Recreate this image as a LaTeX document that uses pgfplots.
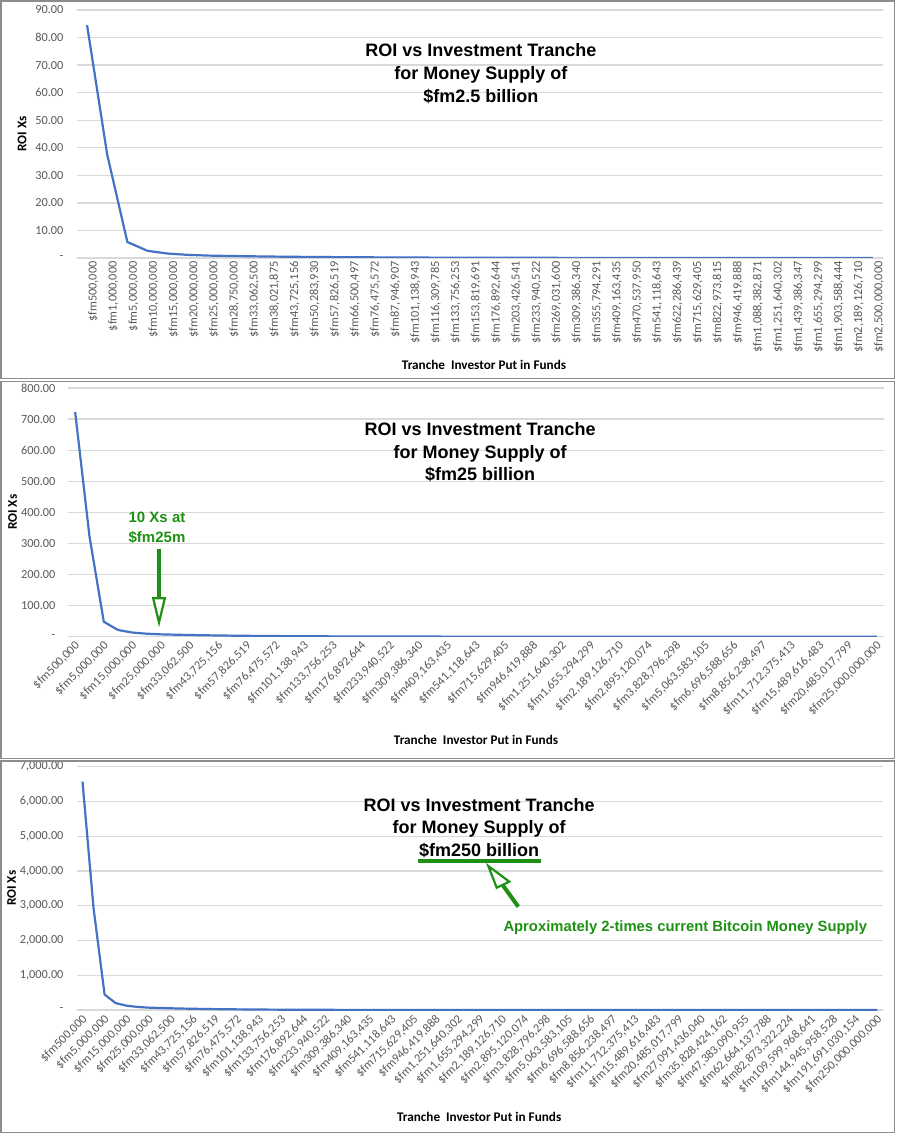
\documentclass[border=0pt]{standalone}
\usepackage{pgfplots}
\pgfplotsset{compat=1.18}
\usepackage{fontspec}
\setmainfont{Carlito}
\newfontfamily\titlefont{Liberation Sans}
\definecolor{lineblue}{HTML}{4472C4}
\definecolor{gridgray}{HTML}{D9D9D9}
\definecolor{tickgray}{HTML}{595959}
\definecolor{anngreen}{RGB}{30,145,20}
\definecolor{framegray}{HTML}{8C8C8C}
\pgfplotsset{roiaxis/.style={
  scale only axis, anchor=south west,
  ymin=0, axis line style={draw=none}, tick style={draw=none},
  ymajorgrids, major grid style={gridgray, line width=1.3pt},
  tick label style={font=\fontsize{12.3}{12.3}\selectfont, text=tickgray},
  label style={font=\bfseries\fontsize{13.2}{15}\selectfont, text=black},
  title style={font=\titlefont\bfseries\fontsize{18}{22.7}\selectfont, align=center, anchor=center},
}}
\begin{document}
\begin{tikzpicture}
\path[use as bounding box, fill=white] (0pt,0pt) rectangle (896pt,1134pt);
% ---------- Panel 1 ----------
\begin{axis}[roiaxis, at={(77pt,876pt)}, width=806pt, height=248pt,
  xmin=-0.5, xmax=39.5, ymax=90,
  ytick={0,10,...,90},
  yticklabels={{-\hspace{4pt}},{10.00},{20.00},{30.00},{40.00},{50.00},{60.00},{70.00},{80.00},{90.00}},
  yticklabel style={xshift=-10pt},
  xtick={0,...,39},
  xticklabels={{\$fm500,000},{\$fm1,000,000},{\$fm5,000,000},{\$fm10,000,000},{\$fm15,000,000},{\$fm20,000,000},{\$fm25,000,000},{\$fm28,750,000},{\$fm33,062,500},{\$fm38,021,875},{\$fm43,725,156},{\$fm50,283,930},{\$fm57,826,519},{\$fm66,500,497},{\$fm76,475,572},{\$fm87,946,907},{\$fm101,138,943},{\$fm116,309,785},{\$fm133,756,253},{\$fm153,819,691},{\$fm176,892,644},{\$fm203,426,541},{\$fm233,940,522},{\$fm269,031,600},{\$fm309,386,340},{\$fm355,794,291},{\$fm409,163,435},{\$fm470,537,950},{\$fm541,118,643},{\$fm622,286,439},{\$fm715,629,405},{\$fm822,973,815},{\$fm946,419,888},{\$fm1,088,382,871},{\$fm1,251,640,302},{\$fm1,439,386,347},{\$fm1,655,294,299},{\$fm1,903,588,444},{\$fm2,189,126,710},{\$fm2,500,000,000}},
  xticklabel style={rotate=90, anchor=east, yshift=-6pt},
  xlabel={Tranche\ \ Investor Put in Funds},
  xlabel style={at={(axis description cs:0.505,-0.431)}, anchor=center},
  ylabel={ROI Xs},
  ylabel style={at={(axis description cs:-0.068,0.5)}, anchor=center},
  title={ROI vs Investment Tranche\\for Money Supply of\\\$fm2.5 billion},
  title style={at={(axis description cs:0.501,0.719)}},
]
\addplot[lineblue, line width=2.2pt, mark=none, line join=round] coordinates {
(0,84.5) (1,37.5) (2,5.8) (3,2.6) (4,1.6) (5,1.14) (6,0.87) (7,0.74) (8,0.63) (9,0.53)
(10,0.45) (11,0.38) (12,0.33) (13,0.28) (14,0.24) (15,0.20) (16,0.17) (17,0.14) (18,0.12) (19,0.10)
(20,0.087) (21,0.074) (22,0.063) (23,0.053) (24,0.045) (25,0.038) (26,0.033) (27,0.028) (28,0.024) (29,0.020)
(30,0.017) (31,0.014) (32,0.012) (33,0.010) (34,0.0088) (35,0.0075) (36,0.0063) (37,0.0054) (38,0.0046) (39,0.004)
};
\end{axis}
% ---------- Panel 2 ----------
\begin{axis}[roiaxis, at={(68pt,497.3pt)}, width=816pt, height=248.7pt,
  xmin=-0.5, xmax=56.5, ymax=800,
  ytick={0,100,...,800},
  yticklabels={{-\hspace{4pt}},{100.00},{200.00},{300.00},{400.00},{500.00},{600.00},{700.00},{800.00}},
  yticklabel style={xshift=-9pt},
  xtick={0,2,...,56},
  xticklabels={{\$fm500,000},{\$fm5,000,000},{\$fm15,000,000},{\$fm25,000,000},{\$fm33,062,500},{\$fm43,725,156},{\$fm57,826,519},{\$fm76,475,572},{\$fm101,138,943},{\$fm133,756,253},{\$fm176,892,644},{\$fm233,940,522},{\$fm309,386,340},{\$fm409,163,435},{\$fm541,118,643},{\$fm715,629,405},{\$fm946,419,888},{\$fm1,251,640,302},{\$fm1,655,294,299},{\$fm2,189,126,710},{\$fm2,895,120,074},{\$fm3,828,796,298},{\$fm5,063,583,105},{\$fm6,696,588,656},{\$fm8,856,238,497},{\$fm11,712,375,413},{\$fm15,489,616,483},{\$fm20,485,017,799},{\$fm25,000,000,000}},
  xticklabel style={rotate=45, anchor=east, yshift=-7pt},
  xlabel={Tranche\ \ Investor Put in Funds},
  xlabel style={at={(axis description cs:0.5,-0.415)}, anchor=center},
  ylabel={ROI Xs},
  ylabel style={at={(axis description cs:-0.068,0.5)}, anchor=center},
  title={ROI vs Investment Tranche\\for Money Supply of\\\$fm25 billion},
  title style={at={(axis description cs:0.505,0.717)}},
]
\addplot[lineblue, line width=2.2pt, mark=none, line join=round] coordinates {
(0,723) (1,323) (2,48) (3,21.5) (4,13.3) (5,9.6) (6,7.5) (7,6.4) (8,5.4) (9,4.6)
(10,3.9) (11,3.3) (12,2.8) (13,2.4) (14,2.0) (15,1.7) (16,1.46) (17,1.24) (18,1.05) (19,0.89)
(20,0.76) (21,0.64) (22,0.55) (23,0.46) (24,0.39) (25,0.33) (26,0.28) (27,0.24) (28,0.21) (29,0.17)
(30,0.15) (31,0.13) (32,0.11) (33,0.09) (34,0.08) (35,0.07) (36,0.06) (37,0.05) (38,0.04) (39,0.035)
(40,0.03) (41,0.025) (42,0.021) (43,0.018) (44,0.015) (45,0.013) (46,0.011) (47,0.009) (48,0.008) (49,0.007)
(50,0.006) (51,0.005) (52,0.0042) (53,0.0036) (54,0.003) (55,0.0026) (56,0.0024)
};
\end{axis}
% ---------- Panel 3 ----------
\begin{axis}[roiaxis, at={(77pt,124pt)}, width=806pt, height=243.3pt,
  xmin=-0.5, xmax=72.5, ymax=7000,
  ytick={0,1000,...,7000},
  yticklabels={{-\hspace{4pt}},{1,000.00},{2,000.00},{3,000.00},{4,000.00},{5,000.00},{6,000.00},{7,000.00}},
  yticklabel style={xshift=-10pt},
  xtick={0,2,...,72},
  xticklabels={{\$fm500,000},{\$fm5,000,000},{\$fm15,000,000},{\$fm25,000,000},{\$fm33,062,500},{\$fm43,725,156},{\$fm57,826,519},{\$fm76,475,572},{\$fm101,138,943},{\$fm133,756,253},{\$fm176,892,644},{\$fm233,940,522},{\$fm309,386,340},{\$fm409,163,435},{\$fm541,118,643},{\$fm715,629,405},{\$fm946,419,888},{\$fm1,251,640,302},{\$fm1,655,294,299},{\$fm2,189,126,710},{\$fm2,895,120,074},{\$fm3,828,796,298},{\$fm5,063,583,105},{\$fm6,696,588,656},{\$fm8,856,238,497},{\$fm11,712,375,413},{\$fm15,489,616,483},{\$fm20,485,017,799},{\$fm27,091,436,040},{\$fm35,828,424,162},{\$fm47,383,090,955},{\$fm62,664,137,788},{\$fm82,873,322,224},{\$fm109,599,968,641},{\$fm144,945,958,528},{\$fm191,691,030,154},{\$fm250,000,000,000}},
  xticklabel style={rotate=45, anchor=east, yshift=-7pt},
  xlabel={Tranche\ \ Investor Put in Funds},
  xlabel style={at={(axis description cs:0.499,-0.4385)}, anchor=center},
  ylabel={ROI Xs},
  ylabel style={at={(axis description cs:-0.081,0.5)}, anchor=center},
  title={ROI vs Investment Tranche\\for Money Supply of\\\underline{\$fm250 billion}},
  title style={at={(axis description cs:0.499,0.719)}},
]
\addplot[lineblue, line width=2.2pt, mark=none, line join=round] coordinates {
(0,6570) (1,2930) (2,444) (3,198) (4,123) (5,88) (6,68) (7,57.7) (8,49) (9,41.6)
(10,35.3) (11,30) (12,25.5) (13,21.6) (14,18.4) (15,15.6) (16,13.2) (17,11.2) (18,9.5) (19,8.1)
(20,6.9) (21,5.8) (22,4.96) (23,4.2) (24,3.6) (25,3.05) (26,2.6) (27,2.2) (28,1.87) (29,1.59)
(30,1.35) (31,1.14) (32,0.97) (33,0.82) (34,0.70) (35,0.6) (36,0.5) (37,0.43) (38,0.37) (39,0.31)
(40,0.26) (41,0.22) (42,0.19) (43,0.16) (44,0.14) (45,0.12) (46,0.1) (47,0.085) (48,0.072) (49,0.061)
(50,0.052) (51,0.044) (52,0.037) (53,0.032) (54,0.027) (55,0.023) (56,0.02) (57,0.017) (58,0.014) (59,0.012)
(60,0.01) (61,0.009) (62,0.0075) (63,0.0064) (64,0.0054) (65,0.0046) (66,0.0039) (67,0.0033) (68,0.0028) (69,0.0024)
(70,0.002) (71,0.0017) (72,0.0015)
};
\end{axis}
% ---------- frames and annotations (image coordinates, y down) ----------
\begin{scope}[yshift=1134pt, yscale=-1]
\draw[framegray, line width=1.3pt] (1pt,1pt) rectangle (894.5pt,378.3pt);
\draw[framegray, line width=1.3pt] (1pt,381.3pt) rectangle (894.5pt,758.3pt);
\draw[framegray, line width=1.3pt] (1pt,761pt) rectangle (894.5pt,1132.5pt);
% panel 2 annotation
\node[anngreen, font=\titlefont\bfseries\fontsize{15}{19.7}\selectfont, align=center] at (157pt,527.5pt) {10 Xs at\\\$fm25m};
\draw[anngreen, line width=4pt] (159pt,549pt) -- (159pt,599pt);
\draw[anngreen, line width=2.2pt, fill=white, line join=miter] (153.2pt,598.3pt) -- (164.8pt,598.3pt) -- (159pt,622.5pt) -- cycle;
% panel 3 annotation
\draw[anngreen, line width=3.5pt] (417.7pt,861pt) -- (541pt,861pt);
\draw[anngreen, line width=4pt] (518.3pt,906.7pt) -- (503pt,885.5pt);
\draw[anngreen, line width=2.2pt, fill=white, line join=miter] (496.7pt,887.7pt) -- (509.3pt,881.7pt) -- (488.3pt,866pt) -- cycle;
\node[anngreen, font=\titlefont\bfseries\fontsize{14.8}{17}\selectfont, anchor=west, inner sep=0pt] at (503.3pt,927.3pt) {Aproximately 2-times current Bitcoin Money Supply};
\end{scope}
\end{tikzpicture}
\end{document}
